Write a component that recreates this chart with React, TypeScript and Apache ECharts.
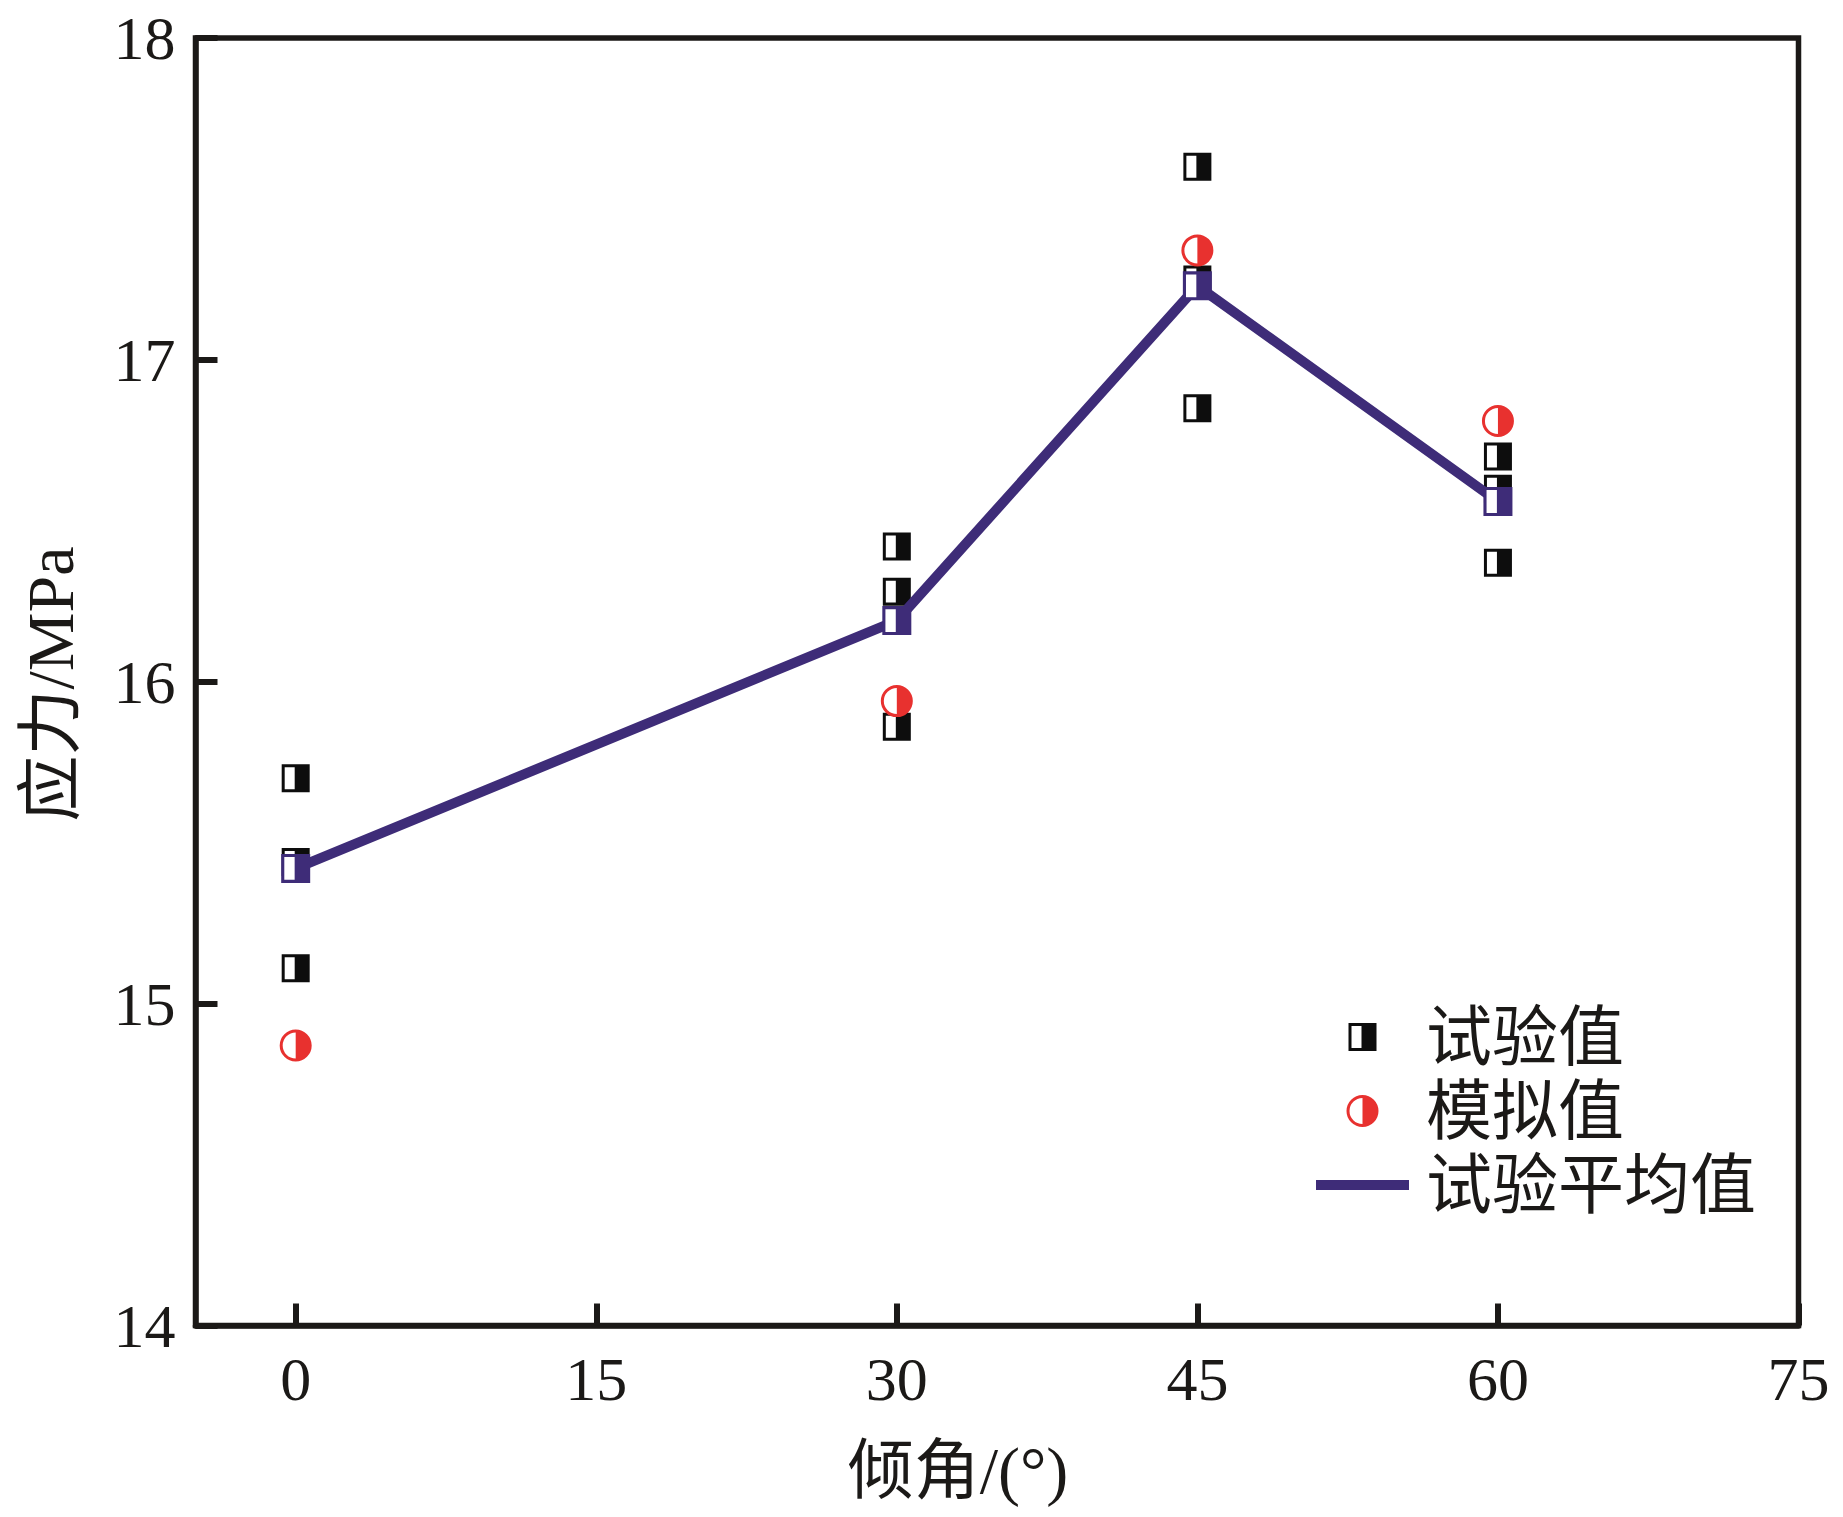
import React, { useEffect, useRef } from "react";
import * as echarts from "echarts";

// ---- data ----
const angles = [0, 30, 45, 60];
const testRun1 = [15.7, 16.42, 17.6, 16.7];
const testRun2 = [15.44, 16.28, 17.25, 16.6];
const testRun3 = [15.11, 15.86, 16.85, 16.37];
const simulated = [14.87, 15.94, 17.34, 16.81];
const testAverage = [15.42, 16.19, 17.23, 16.56];
const xTicks = [0, 15, 30, 45, 60, 75];
const xTitle = "倾角/(°)";
const yTitle = "应力/MPa";
const nameTest = "试验值";
const nameSim = "模拟值";
const nameAvg = "试验平均值";

// ---- styles ----
const INK = "#1b1917";
const RED = "#e8312f";
const PURPLE = "#3e2c78";
const FONT = "'Liberation Serif', 'Noto Sans CJK SC', serif";
const SQUARE = "path://M0 0H28V28H0Z M3 3V25H13V3Z";
const LEGEND_SQUARE = "path://M0 0H28V28H0Z M3 3V25H13V3Z M-2 -2 M30 30";
const HALF_CIRCLE =
  "path://M16 0A16 16 0 0 1 16 32A16 16 0 0 1 16 0Z M16 3A13 13 0 0 0 16 29L16 3Z";
const LINE_ICON = "path://M0 0H93V10H0Z";

const pairs = (ys: number[]) => angles.map((a, i) => [a, ys[i]]);
const testPoints = [...pairs(testRun1), ...pairs(testRun2), ...pairs(testRun3)];

export default function App() {
  const ref = useRef<HTMLDivElement>(null);
  useEffect(() => {
    if (!ref.current) return;
    const chart = echarts.init(ref.current, undefined, { renderer: "svg" });
    const base = { type: "scatter", silent: true, emphasis: { disabled: true } };
    chart.setOption({
      animation: false,
      backgroundColor: "#ffffff",
      grid: {
        left: 195.5,
        top: 38,
        right: 44.5,
        bottom: 191.5,
        show: true,
        borderColor: INK,
        borderWidth: 5.5,
        containLabel: false,
      },
      xAxis: {
        type: "value",
        min: -5,
        max: 75,
        splitLine: { show: false },
        axisLine: { show: true, onZero: false, lineStyle: { color: INK, width: 5.5 } },
        axisTick: { show: true, inside: true, length: 22, customValues: xTicks, lineStyle: { color: INK, width: 6 } },
        axisLabel: { customValues: xTicks, margin: 22, fontSize: 62, fontFamily: FONT, color: INK },
      },
      yAxis: {
        type: "value",
        min: 14,
        max: 18,
        interval: 1,
        splitLine: { show: false },
        axisLine: { show: true, onZero: false, lineStyle: { color: INK, width: 5.5 } },
        axisTick: { show: true, inside: true, length: 22, lineStyle: { color: INK, width: 6 } },
        axisLabel: { margin: 20, fontSize: 62, fontFamily: FONT, color: INK },
      },
      legend: {
        orient: "vertical",
        left: 1316,
        top: 1004,
        padding: 0,
        itemWidth: 93,
        itemHeight: 32,
        itemGap: 8,
        selectedMode: false,
        itemStyle: { opacity: 1 },
        textStyle: { fontFamily: FONT, fontSize: 66, lineHeight: 66, color: INK, padding: [0, 0, 0, 12] },
        data: [
          { name: nameTest, icon: LEGEND_SQUARE },
          { name: nameSim, icon: HALF_CIRCLE },
          { name: nameAvg, icon: LINE_ICON },
        ],
      },
      graphic: [
        {
          type: "text",
          x: 958,
          y: 1470,
          style: {
            text: xTitle,
            fontSize: 66,
            fontFamily: FONT,
            fill: INK,
            align: "center",
            verticalAlign: "middle",
            textAlign: "center",
            textVerticalAlign: "middle",
          },
        },
        {
          type: "text",
          x: 50,
          y: 684,
          rotation: Math.PI / 2,
          style: {
            text: yTitle,
            fontSize: 66,
            fontFamily: FONT,
            fill: INK,
            align: "center",
            verticalAlign: "middle",
            textAlign: "center",
            textVerticalAlign: "middle",
          },
        },
      ],
      series: [
        { ...base, name: "_testBase", z: 2, symbol: "rect", symbolSize: 24, itemStyle: { color: "#ffffff", opacity: 1 }, data: testPoints },
        { ...base, name: nameTest, z: 2, symbol: SQUARE, symbolSize: 28, itemStyle: { color: "#0d0d0d", opacity: 1 }, data: testPoints },
        { ...base, name: "_simBase", z: 2, symbol: "circle", symbolSize: 28, itemStyle: { color: "#ffffff", opacity: 1 }, data: pairs(simulated) },
        { ...base, name: nameSim, z: 2, symbol: HALF_CIRCLE, symbolSize: 32, itemStyle: { color: RED, opacity: 1 }, data: pairs(simulated) },
        {
          type: "line",
          name: nameAvg,
          z: 3,
          silent: true,
          symbol: "none",
          emphasis: { disabled: true },
          itemStyle: { color: PURPLE },
          lineStyle: { color: PURPLE, width: 10, cap: "round", join: "round" },
          data: pairs(testAverage),
        },
        { ...base, name: "_avgBase", z: 4, symbol: "rect", symbolSize: 24, itemStyle: { color: "#ffffff", opacity: 1 }, data: pairs(testAverage) },
        { ...base, name: "_avgMark", z: 4, symbol: SQUARE, symbolSize: 29, itemStyle: { color: PURPLE, opacity: 1 }, data: pairs(testAverage) },
      ],
    });
    return () => chart.dispose();
  }, []);
  return (
    <div
      ref={ref}
      style={{ position: "fixed", left: 0, top: 0, width: 1843, height: 1517, background: "#fff" }}
    />
  );
}
